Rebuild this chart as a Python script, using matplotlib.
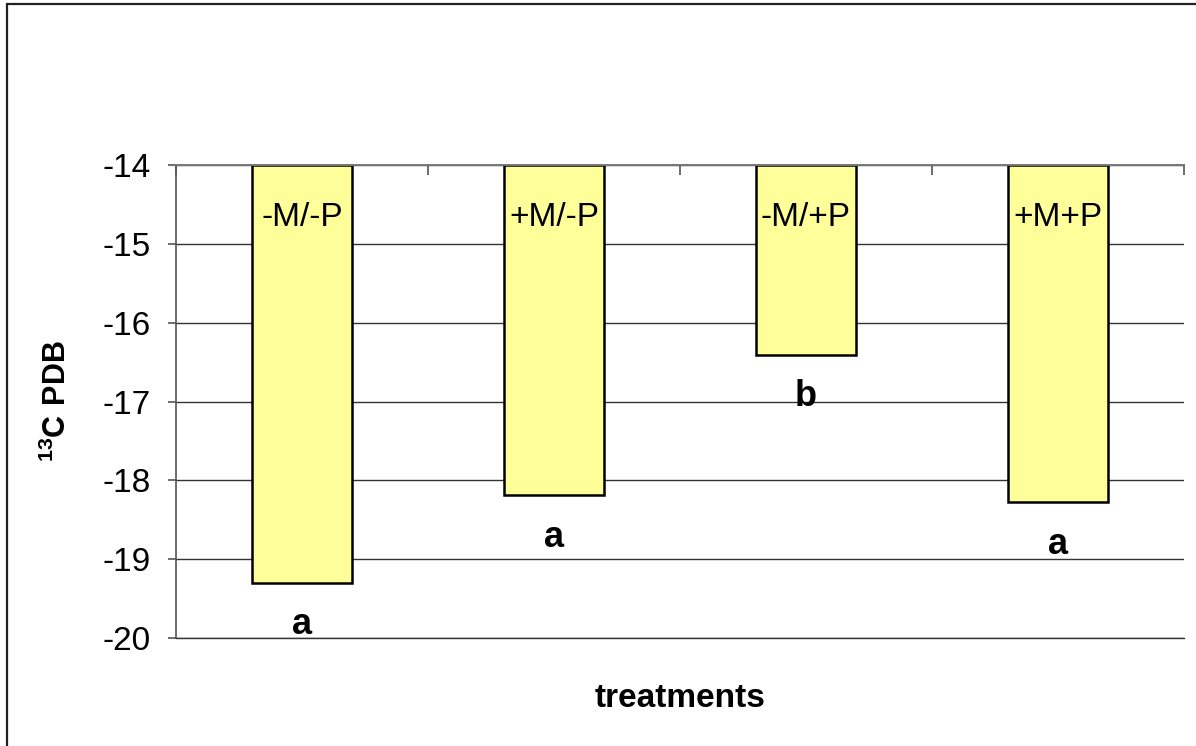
import numpy as np
import matplotlib
matplotlib.use("Agg")
import matplotlib.pyplot as plt

plt.rcParams['font.family'] = ['Liberation Sans', 'DejaVu Sans']
plt.rcParams['axes.unicode_minus'] = False
plt.rcParams['mathtext.fontset'] = 'custom'
plt.rcParams['mathtext.rm'] = 'Liberation Sans'
plt.rcParams['mathtext.bf'] = 'Liberation Sans:bold'

# data
treatments = ["-M/-P", "+M/-P", "-M/+P", "+M+P"]
c13_values = [-19.30, -18.19, -16.41, -18.28]
letters = ["a", "a", "b", "a"]
baseline = -14
y_ticks = [-20, -19, -18, -17, -16, -15, -14]

fig = plt.figure(figsize=(11.96, 7.46), dpi=100, facecolor='white')
ax = fig.add_axes([176/1196, 1 - 638/746, (1184 - 176)/1196, (638 - 165)/746])

# outer chart frame (cut off at right and bottom like the original)
frame = plt.Rectangle((7/1196, -0.1), 1.2, 1 - 4/746 + 0.1, transform=fig.transFigure,
                      facecolor='none', edgecolor='#222222', linewidth=1.6, clip_on=False)
fig.patches.append(frame)

x = np.arange(1, len(treatments) + 1)
heights = [v - baseline for v in c13_values]
ax.bar(x, heights, bottom=baseline, width=0.4, color='#FFFF99', edgecolor='black',
       linewidth=1.8, zorder=2)

for xi, name, val, let in zip(x, treatments, c13_values, letters):
    ax.text(xi, baseline - 0.66, name, ha='center', va='center', fontsize=24, zorder=3)
    ax.text(xi, val - 0.53, let, ha='center', va='center', fontsize=26, weight='bold', zorder=3)

ax.set_xlim(0.5, 4.5)
ax.set_ylim(-20, -14)
ax.set_yticks(y_ticks)
ax.set_yticklabels([str(t) for t in y_ticks], fontsize=24)
ax.yaxis.grid(True, color='#333333', linewidth=1.0)
ax.set_axisbelow(True)

ax.xaxis.tick_top()
ax.set_xticks([0.5, 1.5, 2.5, 3.5, 4.5])
ax.set_xticklabels([])
ax.tick_params(axis='x', direction='in', length=7, width=1.2, color='#555555')
ax.tick_params(axis='y', direction='out', length=6, width=1.2, color='#555555', pad=12)

ax.spines['right'].set_visible(False)
ax.spines['top'].set_color('#777777')
ax.spines['top'].set_linewidth(1.4)
ax.spines['left'].set_color('#555555')
ax.spines['left'].set_linewidth(1.2)
ax.spines['bottom'].set_color('#333333')
ax.spines['bottom'].set_linewidth(1.0)

ax.set_xlabel('treatments', fontsize=24, weight='bold')
ax.xaxis.set_label_coords(0.5, -0.095)
ax.set_ylabel(r'$\mathbf{^{13}C\ PDB}$', fontsize=22)
ax.yaxis.set_label_coords(-0.102, 0.5)

fig.savefig('out.png', dpi=100, facecolor='white')
